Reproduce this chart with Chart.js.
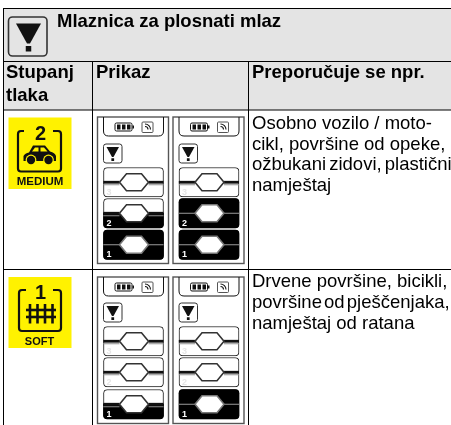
<!DOCTYPE html>
<html lang="hr">
<head>
<meta charset="utf-8">
<title>Mlaznica za plosnati mlaz</title>
<style>
  html, body { margin: 0; padding: 0; background: #fff; }
  canvas { display: block; }
</style>
<script src="https://cdn.jsdelivr.net/npm/chart.js@4"></script>
</head>
<body>
<canvas id="chart" width="451" height="425"></canvas>
<script>
const tableTitle = "Mlaznica za plosnati mlaz";
const columnHeaders = ["Prikaz", "Preporučuje se npr."];
const pressureHeader = ["Stupanj", "tlaka"];
const pressureNames = ["MEDIUM", "SOFT"];
const pressureNumbers = ["2", "1"];
const segmentLabels = ["3", "2", "1"];

// how much of each segment (3, 2, 1) is lit: 0 none, 0.5 lower half, 1 full
const mediumLeft = [0, 0.5, 1];
const mediumRight = [0, 1, 1];
const softLeft = [0, 0, 0.5];
const softRight = [0, 0, 1];

const mediumUses = ["Osobno vozilo / moto-", "cikl, površine od opeke,", "ožbukani zidovi, plastični", "namještaj"];
const softUses = ["Drvene površine, bicikli,", "površine od pješčenjaka,", "namještaj od ratana"];

// layout, in picture pixels (the axes run 0-451 and 0-425)
const panelX = [97.5, 173];
const panelW = 71;
const rowLayout = [
  { top: 117, bottom: 263.5, segTops: [167.5, 198.5, 230], segH: 29.5, badgeTop: 117.5, badgeBottom: 189, textY: [129, 149.5, 170, 190.5], spacing: [0, 0, -2, 0] },
  { top: 277, bottom: 423.5, segTops: [326.5, 357.5, 389.5], segH: 29.5, badgeTop: 277, badgeBottom: 348, textY: [287, 308, 329], spacing: [0, -3, 0] },
];
const rowFills = [[mediumLeft, mediumRight], [softLeft, softRight]];
const rowUses = [mediumUses, softUses];

const frameBars = [];
const fillBars = [];
rowLayout.forEach((row, r) => {
  panelX.forEach((px, p) => {
    row.segTops.forEach((top, s) => {
      const xMid = px + 36;
      const bottom = top + row.segH;
      frameBars.push({ x: xMid, y: [top, bottom] });
      const lit = rowFills[r][p][s];
      if (lit > 0) fillBars.push({ x: xMid, y: [bottom - row.segH * lit, bottom], lit });
    });
  });
});

const ink = "#111";

const line = (ctx, x1, y1, x2, y2, color, w) => {
  ctx.strokeStyle = color;
  ctx.lineWidth = w;
  ctx.beginPath();
  ctx.moveTo(x1, y1);
  ctx.lineTo(x2, y2);
  ctx.stroke();
};

const roundBox = (ctx, x, y, w, h, r) => {
  ctx.beginPath();
  ctx.roundRect(x, y, w, h, r);
};

const funnel = (ctx, x, y, w) => {
  // x,y is the top left of the funnel glyph, w its width
  ctx.fillStyle = ink;
  ctx.beginPath();
  ctx.moveTo(x, y);
  ctx.lineTo(x + w, y);
  ctx.lineTo(x + w * 0.56, y + w * 0.8);
  ctx.lineTo(x + w * 0.44, y + w * 0.8);
  ctx.closePath();
  ctx.fill();
  ctx.fillRect(x + w * 0.39, y + w * 0.9, w * 0.22, w * 0.22);
};

const bracket = (ctx, l, t, r, b, gapL, gapR) => {
  ctx.strokeStyle = ink;
  ctx.lineWidth = 2.2;
  ctx.beginPath();
  ctx.moveTo(gapL, t);
  ctx.lineTo(l + 3, t);
  ctx.quadraticCurveTo(l, t, l, t + 3);
  ctx.lineTo(l, b - 3);
  ctx.quadraticCurveTo(l, b, l + 3, b);
  ctx.lineTo(r - 3, b);
  ctx.quadraticCurveTo(r, b, r, b - 3);
  ctx.lineTo(r, t + 3);
  ctx.quadraticCurveTo(r, t, r - 3, t);
  ctx.lineTo(gapR, t);
  ctx.stroke();
};

const carIcon = (ctx) => {
  ctx.fillStyle = ink;
  ctx.beginPath();
  ctx.moveTo(23.5, 161);
  ctx.lineTo(23.5, 156);
  ctx.quadraticCurveTo(25, 153, 29, 152.5);
  ctx.lineTo(33, 145.5);
  ctx.lineTo(45, 145.5);
  ctx.lineTo(50, 151.5);
  ctx.quadraticCurveTo(55, 152.5, 56, 156);
  ctx.lineTo(56, 161);
  ctx.closePath();
  ctx.fill();
  ctx.fillStyle = "#fff200";
  ctx.beginPath();
  ctx.moveTo(32, 151.5);
  ctx.lineTo(35, 147.5);
  ctx.lineTo(38.5, 147.5);
  ctx.lineTo(38.5, 151.5);
  ctx.closePath();
  ctx.moveTo(40.5, 151.5);
  ctx.lineTo(40.5, 147.5);
  ctx.lineTo(44, 147.5);
  ctx.lineTo(47.5, 151.5);
  ctx.closePath();
  ctx.fill();
  [31, 48.5].forEach((cx) => {
    ctx.fillStyle = "#fff200";
    ctx.beginPath();
    ctx.arc(cx, 160, 5.4, 0, Math.PI * 2);
    ctx.fill();
    ctx.fillStyle = ink;
    ctx.beginPath();
    ctx.arc(cx, 160, 4.2, 0, Math.PI * 2);
    ctx.fill();
  });
};

const fenceIcon = (ctx) => {
  [30, 37.5, 45, 52.5].forEach((x) => line(ctx, x, 304, x, 323.5, ink, 2.6));
  [310, 317].forEach((y) => line(ctx, 26, y, 56, y, ink, 2.6));
};

const badge = (ctx, r) => {
  const row = rowLayout[r];
  ctx.fillStyle = "#fff200";
  ctx.fillRect(8.5, row.badgeTop, 63, row.badgeBottom - row.badgeTop);
  ctx.fillStyle = ink;
  ctx.textAlign = "center";
  ctx.font = "bold 20px 'Liberation Sans'";
  if (r === 0) {
    bracket(ctx, 18, 131, 61, 171.5, 24, 53);
    ctx.fillText(pressureNumbers[0], 40.5, 139.5);
    carIcon(ctx);
    ctx.font = "bold 11.5px 'Liberation Sans'";
    ctx.fillText(pressureNames[0], 40, 185);
  } else {
    bracket(ctx, 19, 290, 61, 331, 26, 53);
    ctx.fillText(pressureNumbers[1], 40.5, 298.5);
    fenceIcon(ctx);
    ctx.font = "bold 11px 'Liberation Sans'";
    ctx.fillText(pressureNames[1], 39.5, 344.5);
  }
  ctx.textAlign = "left";
};

const batteryBar = (ctx, px, top) => {
  const x = px + 17.5;
  const y = top + 6;
  ctx.strokeStyle = ink;
  ctx.lineWidth = 1;
  roundBox(ctx, x, y, 17, 8, 1.5);
  ctx.stroke();
  ctx.fillStyle = ink;
  [2, 7, 12].forEach((d) => ctx.fillRect(x + d, y + 1.5, 3.5, 5));
  ctx.fillRect(x + 17.5, y + 2.5, 1.5, 3);
  // signal box next to it
  ctx.strokeStyle = "#555";
  roundBox(ctx, px + 44.5, top + 5, 11, 10.5, 1);
  ctx.stroke();
  ctx.lineWidth = 1.1;
  ctx.strokeStyle = ink;
  [3, 5.5].forEach((rad) => {
    ctx.beginPath();
    ctx.arc(px + 47.5, top + 12.5, rad, -Math.PI / 2, 0);
    ctx.stroke();
  });
};

const segmentOverlay = (ctx, px, top, h, lit, label) => {
  const cy = top + h / 2;
  const l = px + 5.8;
  const r = px + 66;
  const hl = px + 22;
  const hr = px + 51;
  const full = lit === 1;
  const cableColor = full ? "#9a9a9a" : ink;
  line(ctx, l, cy, hl, cy, cableColor, full ? 1 : 2.8);
  line(ctx, hr, cy, r, cy, cableColor, full ? 1 : 2.8);
  if (!full) {
    // thin grey wire under the thick one
    line(ctx, l, cy + 2.5, hl, cy + 2.5, "#8f8f8f", 1);
    line(ctx, hr, cy + 2.5, r, cy + 2.5, "#8f8f8f", 1);
  }
  ctx.fillStyle = "#fff";
  ctx.strokeStyle = full ? "#777" : "#333";
  ctx.lineWidth = 1.6;
  ctx.beginPath();
  ctx.moveTo(hl, cy);
  ctx.lineTo(hl + 7, cy - 8.5);
  ctx.lineTo(hr - 7, cy - 8.5);
  ctx.lineTo(hr, cy);
  ctx.lineTo(hr - 7, cy + 8.5);
  ctx.lineTo(hl + 7, cy + 8.5);
  ctx.closePath();
  ctx.fill();
  ctx.stroke();
  ctx.font = "bold 9px 'Liberation Sans'";
  ctx.fillStyle = lit > 0 ? "#fff" : "#e6e6e6";
  ctx.fillText(label, px + 9, top + h - 2.5);
};

const drawPanel = (ctx, px, row, fills) => {
  ctx.strokeStyle = "#555";
  ctx.lineWidth = 1.4;
  ctx.strokeRect(px, row.top, panelW, row.bottom - row.top);

  ctx.strokeStyle = ink;
  ctx.lineWidth = 1;
  ctx.beginPath();
  ctx.moveTo(px + 6, row.top);
  ctx.lineTo(px + 6, row.top + 14);
  ctx.quadraticCurveTo(px + 6, row.top + 19, px + 11, row.top + 19);
  ctx.lineTo(px + 61, row.top + 19);
  ctx.quadraticCurveTo(px + 66, row.top + 19, px + 66, row.top + 14);
  ctx.lineTo(px + 66, row.top);
  ctx.stroke();
  batteryBar(ctx, px, row.top);

  const boxTop = row.segTops[0] - 23.5;
  ctx.strokeStyle = "#333";
  ctx.lineWidth = 1;
  roundBox(ctx, px + 6, boxTop, 18.5, 19, 2.5);
  ctx.stroke();
  funnel(ctx, px + 9, boxTop + 3, 12.5);

  row.segTops.forEach((top, s) => {
    segmentOverlay(ctx, px, top, row.segH, fills[s], segmentLabels[s]);
  });
};

const tablePlugin = {
  id: "pressureTable",
  beforeDatasetsDraw(chart) {
    const { ctx } = chart;
    const { x, y } = chart.scales;
    ctx.save();
    ctx.fillStyle = "#e4e4e4";
    ctx.fillRect(x.getPixelForValue(3.5), y.getPixelForValue(8.5), 448, 101.5);

    rowLayout.forEach((row, r) => badge(ctx, r));

    ctx.fillStyle = "#000";
    ctx.textBaseline = "alphabetic";
    ctx.font = "bold 18.5px 'Liberation Sans'";
    ctx.fillText(tableTitle, 57, 27);
    ctx.fillText(pressureHeader[0], 6, 78);
    ctx.fillText(pressureHeader[1], 6, 100.5);
    ctx.fillText(columnHeaders[0], 96, 78);
    ctx.fillText(columnHeaders[1], 252, 78);

    ctx.font = "18.5px 'Liberation Sans'";
    rowLayout.forEach((row, r) => {
      rowUses[r].forEach((text, i) => {
        ctx.wordSpacing = `${row.spacing[i]}px`;
        ctx.fillText(text, 252, row.textY[i]);
      });
    });
    ctx.wordSpacing = "0px";

    // header icon
    ctx.strokeStyle = "#333";
    ctx.lineWidth = 1.6;
    roundBox(ctx, 8.5, 17, 38.5, 39, 4);
    ctx.stroke();
    funnel(ctx, 16, 23.5, 25);

    line(ctx, 3, 8.5, 451, 8.5, "#000", 1);
    line(ctx, 3, 61.5, 451, 61.5, "#000", 1);
    line(ctx, 3, 110, 451, 110, "#000", 1);
    line(ctx, 3, 269.5, 451, 269.5, "#000", 1);
    line(ctx, 3.5, 8, 3.5, 425, "#000", 1);
    line(ctx, 92.5, 61, 92.5, 425, "#000", 1);
    line(ctx, 248.5, 61, 248.5, 425, "#000", 1);
    ctx.restore();
  },
  afterDatasetsDraw(chart) {
    const { ctx } = chart;
    ctx.save();
    rowLayout.forEach((row, r) => {
      panelX.forEach((px, p) => drawPanel(ctx, px, row, rowFills[r][p]));
    });
    ctx.restore();
  },
};

new Chart(document.getElementById("chart"), {
  type: "bar",
  data: {
    datasets: [
      {
        label: "Segment",
        data: frameBars,
        backgroundColor: "#fff",
        borderColor: "#222",
        borderWidth: 1,
        borderSkipped: false,
        borderRadius: 4,
        barThickness: 60,
        grouped: false,
        order: 2,
      },
      {
        label: "Razina",
        data: fillBars,
        backgroundColor: "#000",
        borderWidth: 0,
        borderSkipped: false,
        borderRadius: (c) => {
          const raw = c.raw;
          return raw && raw.lit === 1 ? 4 : { topLeft: 0, topRight: 0, bottomLeft: 4, bottomRight: 4 };
        },
        barThickness: 60,
        grouped: false,
        order: 1,
      },
    ],
  },
  options: {
    responsive: false,
    animation: false,
    events: [],
    layout: { padding: 0 },
    plugins: { legend: { display: false }, tooltip: { enabled: false } },
    scales: {
      x: { type: "linear", min: 0, max: 451, display: false, offset: false },
      y: { type: "linear", min: 0, max: 425, reverse: true, display: false },
    },
  },
  plugins: [tablePlugin],
});
</script>
</body>
</html>
